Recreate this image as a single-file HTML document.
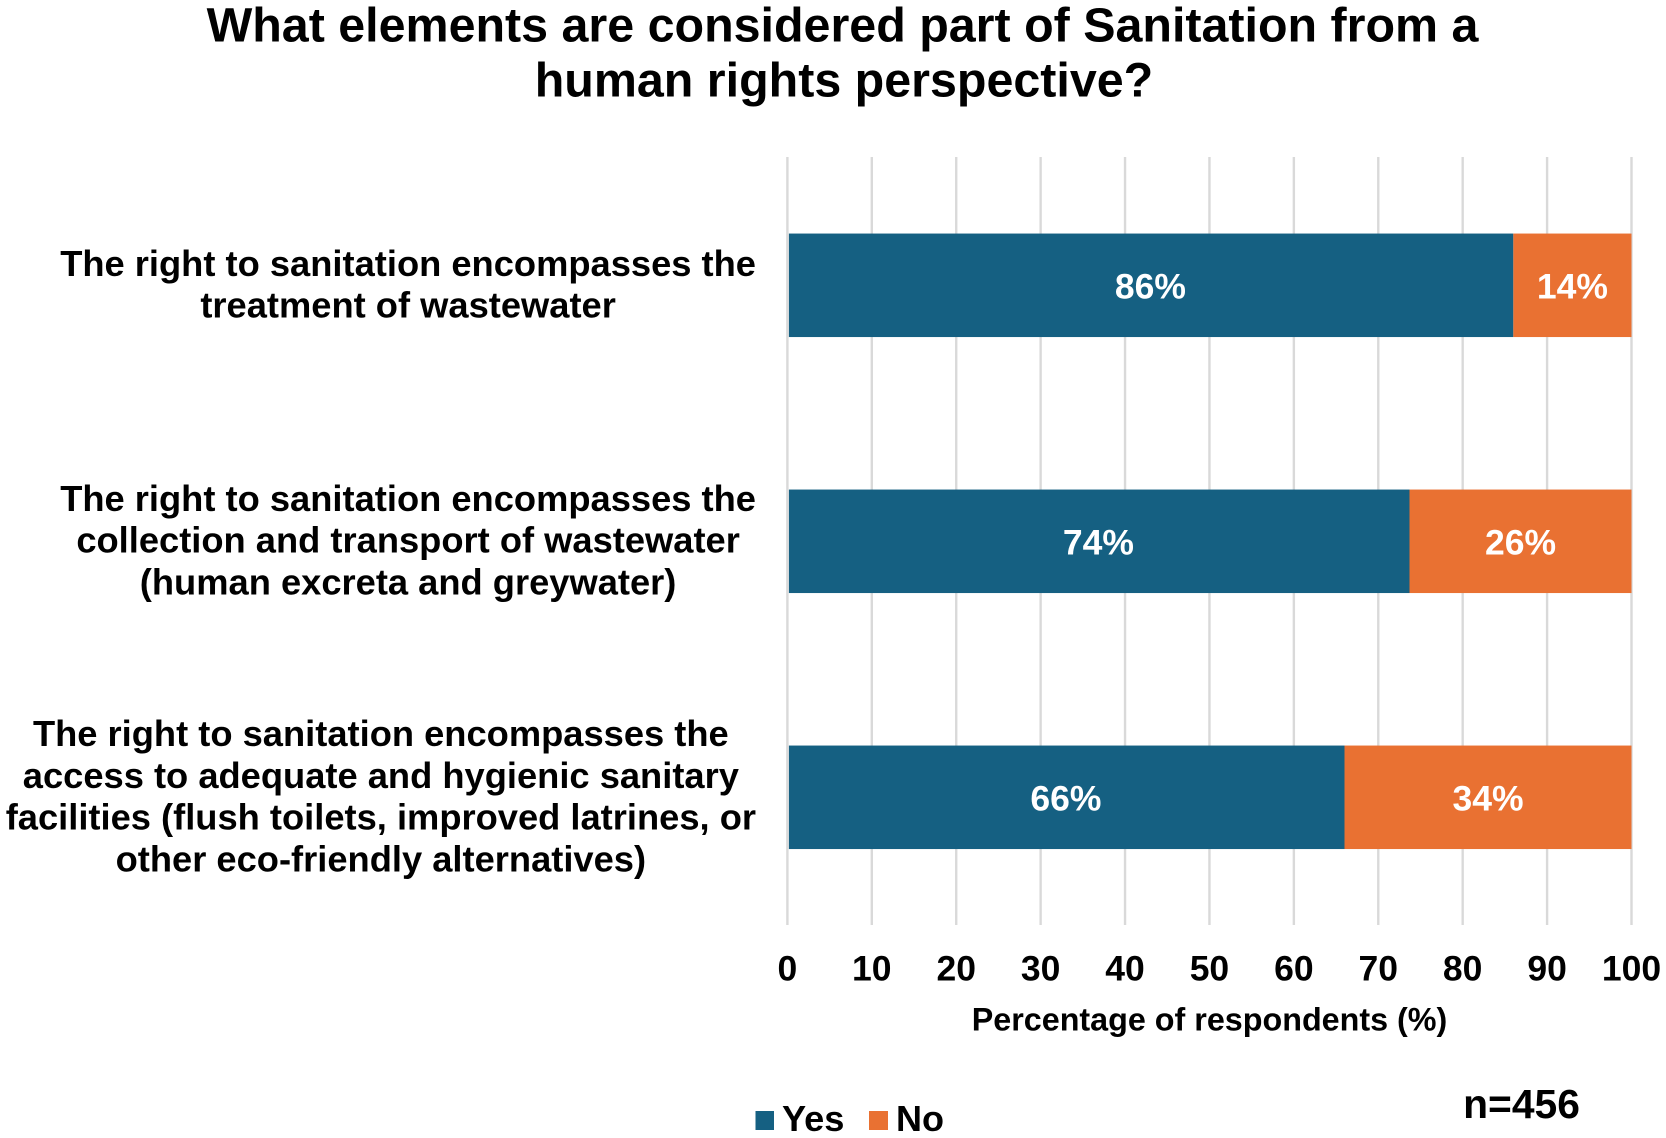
<!DOCTYPE html>
<html lang="en">
<head>
<meta charset="utf-8">
<title>What elements are considered part of Sanitation from a human rights perspective?</title>
<style>
html,body{margin:0;padding:0;background:#fff;width:1666px;height:1138px;overflow:hidden}
svg{display:block}
text{font-family:"Liberation Sans",Arial,sans-serif;font-weight:700;fill:#000}
</style>
</head>
<body>
<svg id="chart" xmlns="http://www.w3.org/2000/svg" width="1666" height="1138" viewBox="0 0 1666 1138">
  <rect width="1666" height="1138" fill="#fff"/>
  <g text-anchor="middle" font-size="48.4">
    <text x="842.5" y="41.5">What elements are considered part of Sanitation from a</text>
    <text x="844" y="96.5">human rights perspective?</text>
  </g>
  <g id="grid"></g>
  <g id="bars"></g>
  <g id="cats"></g>
  <g id="ticks"></g>
  <text x="1209.5" y="1030.5" text-anchor="middle" font-size="32.3">Percentage of respondents (%)</text>
  <g>
    <g>
      <rect x="755.5" y="1111" width="18.5" height="19" fill="#156082"/>
      <text x="782" y="1131" font-size="36.2">Yes</text>
    </g>
    <g>
      <rect x="869" y="1111" width="19" height="19" fill="#E97132"/>
      <text x="896" y="1131" font-size="36">No</text>
    </g>
  </g>
  <text x="1521.5" y="1118" text-anchor="middle" font-size="40.8">n=456</text>
</svg>
<script>
const categories = [
  ["The right to sanitation encompasses the", "treatment of wastewater"],
  ["The right to sanitation encompasses the", "collection and transport of wastewater", "(human excreta and greywater)"],
  ["The right to sanitation encompasses the", "access to adequate and hygienic sanitary", "facilities (flush toilets, improved latrines, or", "other eco-friendly alternatives)"]
];
const yesValues = [86, 73.7, 66];
const noValues = [14, 26.3, 34];
const tickValues = [0, 10, 20, 30, 40, 50, 60, 70, 80, 90, 100];

const NS = "http://www.w3.org/2000/svg";
const plotLeft = 787.4, plotRight = 1631.5, plotTop = 157, plotBottom = 925;
const barHeight = 103.5, labelRight = 756, lineStep = 41.7, barInset = 1.5;
function xScale(v) { return plotLeft + (v / 100) * (plotRight - plotLeft); }
function bandCenter(i) { return plotTop + (plotBottom - plotTop) / categories.length * (i + 0.5); }
function make(tag, attrs, parent) {
  const el = document.createElementNS(NS, tag);
  for (const k in attrs) el.setAttribute(k, attrs[k]);
  parent.appendChild(el);
  return el;
}
const grid = document.getElementById("grid");
const bars = document.getElementById("bars");
const cats = document.getElementById("cats");
const ticks = document.getElementById("ticks");

tickValues.forEach(function (t) {
  const line = make("line", { x1: xScale(t), x2: xScale(t), y1: plotTop, y2: plotBottom, stroke: "#D9D9D9", "stroke-width": 2.4 }, grid);
  
  
  const label = make("text", { x: xScale(t), y: 980.5, "text-anchor": "middle", "font-size": 35.5 }, ticks);
  label.textContent = t;
  
  
});

function segment(start, value, color, i, cls) {
  const y = bandCenter(i) - barHeight / 2 + 0.3;
  const inset = start === 0 ? barInset : 0;
  const rect = make("rect", { x: xScale(start) + inset, y: y, width: xScale(start + value) - xScale(start) - inset, height: barHeight, fill: color }, bars);
  
  
  const label = make("text", { x: xScale(start + value / 2), y: bandCenter(i) + 13.5, "text-anchor": "middle", "font-size": 35.5, style: "fill:#fff" }, bars);
  label.textContent = Math.round(value) + "%";
  
  
}
categories.forEach(function (lines, i) {
  segment(0, yesValues[i], "#156082", i, "yes");
  segment(yesValues[i], noValues[i], "#E97132", i, "no");
  const els = lines.map(function (s, j) {
    const t = make("text", { y: bandCenter(i) + 11.7 + (j - (lines.length - 1) / 2) * lineStep, "text-anchor": "middle", "font-size": 36.3 }, cats);
    t.textContent = s;
    
    
    return t;
  });
  const maxW = Math.max.apply(null, els.map(function (t) { return t.getComputedTextLength(); }));
  els.forEach(function (t) { t.setAttribute("x", labelRight - maxW / 2); });
});
</script>
</body>
</html>
